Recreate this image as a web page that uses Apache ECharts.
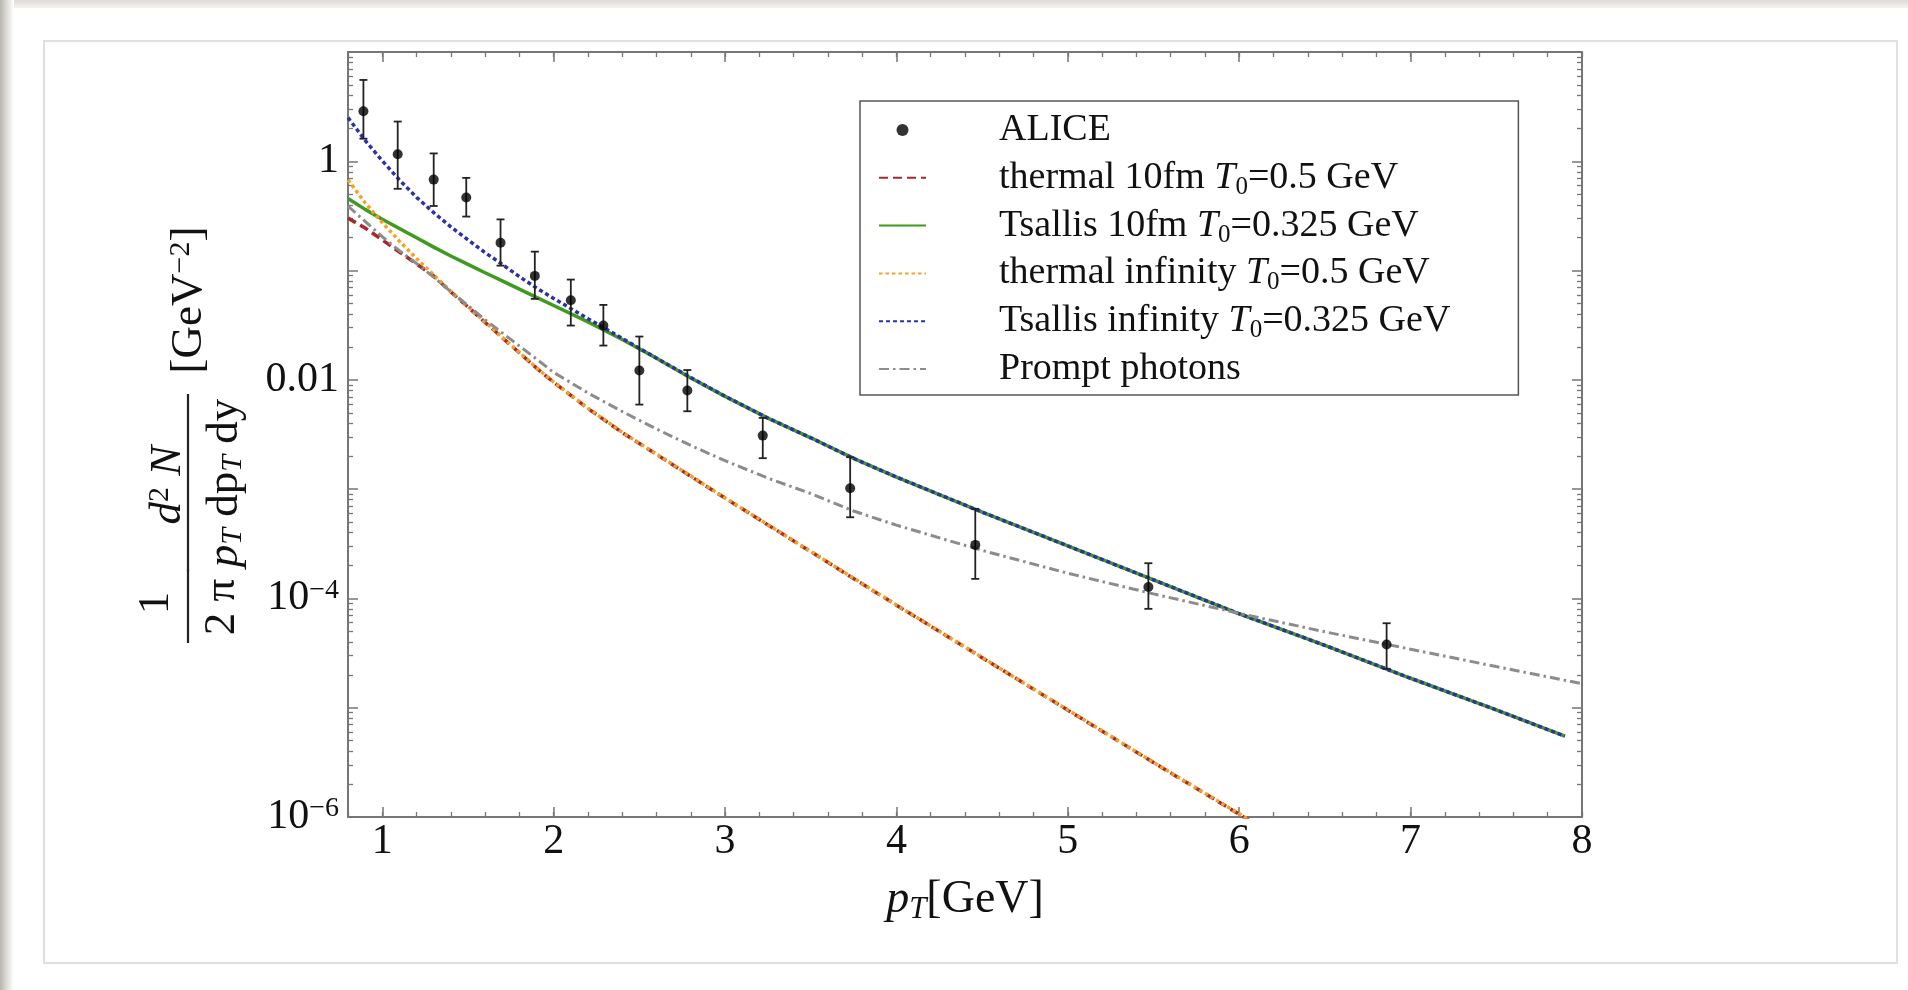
<!DOCTYPE html>
<html><head><meta charset="utf-8">
<script src="https://cdn.jsdelivr.net/npm/echarts@6/dist/echarts.min.js"></script>
<style>
html,body{margin:0;padding:0;width:1908px;height:990px;overflow:hidden;background:#fff;}
#topshade{position:absolute;left:0;top:0;width:1908px;height:8px;background:linear-gradient(#dedbd5,#f4f3f0);}
#leftshade{position:absolute;left:0;top:0;width:14px;height:990px;background:linear-gradient(to right,#b8b5af,#dcdad5 45%,#ffffff);}
#frame{position:absolute;left:43px;top:40px;width:1855px;height:924px;border:2px solid #e0e0e0;box-sizing:border-box;}
#chart{position:absolute;left:0;top:0;width:1908px;height:990px;}
</style></head>
<body>
<div id="topshade"></div><div id="leftshade"></div><div id="frame"></div>
<div id="chart"></div>
<script>
// ---- data ----
const PT = [0.8,0.9,1.0,1.1,1.2,1.3,1.4,1.5,1.6,1.7,1.8,1.9,2.0,2.2,2.4,2.6,2.8,3.0,3.25,3.5,3.75,4.0,4.5,5.0,5.5,6.0,6.5,7.0,7.5,7.9,8.0];
const THERMAL_10FM = [0.302,0.245,0.191,0.148,0.115,0.0891,0.0638,0.0465,0.0336,0.0243,0.0177,0.0128,0.0095,0.00547,0.00329,0.00208,0.00131,0.000828,0.000471,0.000268,0.000152,8.68e-5,2.87e-5,9.5e-6,3.15e-6,1.06e-6,3.4e-7,null,null,null,null];
const TSALLIS_10FM = [0.457,0.363,0.295,0.243,0.2,0.164,0.136,0.114,0.0955,0.0804,0.0676,0.0569,0.0479,0.0339,0.0234,0.0158,0.0104,0.00706,0.00447,0.00295,0.00191,0.00129,0.000617,0.000302,0.000148,7.24e-5,3.72e-5,1.86e-5,9.55e-6,5.5e-6,null];
const THERMAL_INF = [0.676,0.417,0.275,0.186,0.129,0.0912,0.0646,0.0468,0.0339,0.0245,0.0178,0.0129,0.00955,0.0055,0.00331,0.00209,0.00132,0.000832,0.000473,0.000269,0.000153,8.71e-5,2.88e-5,9.55e-6,3.16e-6,1.07e-6,3.4e-7,null,null,null,null];
const TSALLIS_INF = [2.51,1.55,1.01,0.676,0.468,0.339,0.251,0.191,0.146,0.114,0.0881,0.0692,0.0556,0.0363,0.024,0.0158,0.0105,0.00708,0.00447,0.00295,0.00191,0.00129,0.000617,0.000302,0.000148,7.24e-5,3.72e-5,1.86e-5,9.55e-6,5.5e-6,null];
const PROMPT = [0.389,0.282,0.204,0.152,0.116,0.0871,0.064,0.0479,0.0355,0.0269,0.0204,0.0155,0.0117,0.00759,0.00513,0.00355,0.00251,0.00182,0.00126,0.000912,0.000631,0.000468,0.000275,0.000170,0.000110,7.3e-5,4.95e-5,3.43e-5,2.38e-5,1.78e-5,1.66e-5];

const ALICE_PT = [0.89,1.09,1.3,1.49,1.69,1.89,2.1,2.29,2.5,2.78,3.22,3.73,4.46,5.47,6.86];
const ALICE_Y  = [2.87,1.16,0.68,0.466,0.18,0.0894,0.0535,0.0314,0.0122,0.00798,0.00309,0.00102,0.000309,0.000127,3.79e-5];
const ALICE_HI = [5.55,2.31,1.18,0.705,0.294,0.149,0.0827,0.0485,0.0249,0.0123,0.00449,0.00196,0.00066,0.00021,5.93e-5];
const ALICE_LO = [1.61,0.56,0.39,0.312,0.111,0.0551,0.0314,0.0206,0.00594,0.00516,0.00192,0.000553,0.000151,8.03e-5,2.27e-5];

const NAMES = ['ALICE','thermal 10fm T0=0.5 GeV','Tsallis 10fm T0=0.325 GeV','thermal infinity T0=0.5 GeV','Tsallis infinity T0=0.325 GeV','Prompt photons'];

const X_LABELS = [1,2,3,4,5,6,7,8];
const X_MINOR = [0.8,1.0,1.2,1.4,1.6,1.8,2.0,2.2,2.4,2.6,2.8,3.0,3.2,3.4,3.6,3.8,4.0,4.2,4.4,4.6,4.8,5.0,5.2,5.4,5.6,5.8,6.0,6.2,6.4,6.6,6.8,7.0,7.2,7.4,7.6,7.8,8.0];
const Y_LABELS = [1e-6,1e-4,0.01,1];
const Y_DECADES = [1e-6,1e-5,1e-4,1e-3,1e-2,1e-1,1,10];
const Y_MINOR_MULT = [2,3,4,5,6,7,8,9];

// ---- styling ----
const SERIF = '"Liberation Serif","Times New Roman",serif';
const FRAME = '#767676';
const TXT = '#111';
const Y_MINOR = [];
Y_DECADES.slice(0,-1).forEach(d => Y_MINOR_MULT.forEach(m => Y_MINOR.push(m*d)));

function pairs(ys){ return PT.map((x,i)=> ys[i]==null ? null : [x, ys[i]]).filter(Boolean); }

const chart = echarts.init(document.getElementById('chart'), null, {renderer:'canvas'});

const yBase = {type:'log', logBase:10, min:1e-6, max:10, gridIndex:0, splitLine:{show:false},
  axisLabel:{show:false}, axisLine:{show:false}, axisTick:{show:false}};
const xBase = {type:'value', min:0.8, max:8, gridIndex:0, splitLine:{show:false},
  axisLabel:{show:false}, axisLine:{show:false}, axisTick:{show:false}};
const tickMajor = (vals) => ({show:true, inside:true, length:10, customValues:vals, lineStyle:{color:FRAME, width:1.5}});
const tickMinor = (vals) => ({show:true, inside:true, length:5, customValues:vals, lineStyle:{color:FRAME, width:1.3}});
const frameLine = {show:true, lineStyle:{color:FRAME, width:2}};

function lineSeries(name, ys, color, type, width){
  return {name, type:'line', data:pairs(ys), xAxisIndex:0, yAxisIndex:0, symbol:'none', showSymbol:false,
    smooth:false, clip:true, silent:true,
    lineStyle:{color, width, type}, itemStyle:{color}};
}
const noDot = {opacity:0};

const option = {
  backgroundColor:'transparent',
  animation:false,
  grid:{left:348, right:326, top:52, bottom:173, containLabel:false},
  xAxis:[
    Object.assign({}, xBase, {position:'bottom', axisLine:frameLine, axisTick:tickMajor(X_LABELS),
      axisLabel:{show:true, customValues:X_LABELS, margin:4, fontFamily:SERIF, fontSize:42, color:TXT},
      name:'{i|p}{sub|T}[GeV]', nameLocation:'middle', nameGap:58,
      nameTextStyle:{fontFamily:SERIF, fontSize:46, color:TXT, lineHeight:50,
        rich:{i:{fontFamily:SERIF, fontStyle:'italic', fontSize:46, color:TXT, lineHeight:50},
              sub:{fontFamily:SERIF, fontStyle:'italic', fontSize:31, color:TXT, lineHeight:32, verticalAlign:'bottom'}}}}),
    Object.assign({}, xBase, {position:'bottom', axisTick:tickMinor(X_MINOR)}),
    Object.assign({}, xBase, {position:'top', axisLine:frameLine, axisTick:tickMajor(X_LABELS)}),
    Object.assign({}, xBase, {position:'top', axisTick:tickMinor(X_MINOR)})
  ],
  yAxis:[
    Object.assign({}, yBase, {position:'left', axisLine:frameLine, axisTick:tickMajor(Y_DECADES),
      axisLabel:{show:true, customValues:Y_LABELS, margin:9,
        formatter:(v)=>{ const e = Math.round(Math.log10(v)); if(e===0) return '{n|1}'; if(e===-2) return '{n|0.01}'; return '{n|10}{s|\u2212'+(-e)+'}'; },
        rich:{n:{fontFamily:SERIF, fontSize:42, color:TXT, lineHeight:44},
              s:{fontFamily:SERIF, fontSize:28, color:TXT, lineHeight:24, verticalAlign:'top'}}}}),
    Object.assign({}, yBase, {position:'left', axisTick:tickMinor(Y_MINOR)}),
    Object.assign({}, yBase, {position:'right', axisLine:frameLine, axisTick:tickMajor(Y_DECADES)}),
    Object.assign({}, yBase, {position:'right', axisTick:tickMinor(Y_MINOR)})
  ],
  legend:{
    orient:'vertical', left:860, top:101, padding:[7,68,4,18], itemGap:3.8, itemWidth:47, itemHeight:12,
    borderColor:'#555', borderWidth:1.5, backgroundColor:'#fff', selectedMode:false,
    data:[{name:NAMES[0], icon:'circle'},
          {name:NAMES[1], itemStyle:noDot}, {name:NAMES[2], itemStyle:noDot}, {name:NAMES[3], itemStyle:noDot},
          {name:NAMES[4], itemStyle:noDot}, {name:NAMES[5], itemStyle:noDot}],
    formatter:(n)=> n.replace('T0','{i|T}{sub|0}'),
    textStyle:{fontFamily:SERIF, fontSize:38, color:TXT, lineHeight:44, padding:[0,0,0,68],
      rich:{i:{fontFamily:SERIF, fontStyle:'italic', fontSize:38, color:TXT, lineHeight:44},
            sub:{fontFamily:SERIF, fontSize:25, color:TXT, lineHeight:26, verticalAlign:'bottom'}}}
  },
  graphic:[
    {type:'text', x:156, y:603, rotation:Math.PI/2, silent:true,
      style:{text:'1', fontFamily:SERIF, fontSize:45, fill:TXT, align:'center', verticalAlign:'middle'}},
    {type:'text', x:222, y:607, rotation:Math.PI/2, silent:true,
      style:{text:'2 \u03c0', fontFamily:SERIF, fontSize:45, fill:TXT, align:'center', verticalAlign:'middle'}},
    {type:'line', silent:true, shape:{x1:188, y1:569, x2:188, y2:643}, style:{stroke:'#222', lineWidth:2.2}},
    {type:'text', x:168, y:485, rotation:Math.PI/2, silent:true,
      style:{text:'{i|d}{sup|2}{i| N}', fontFamily:SERIF, fontSize:45, fill:TXT, align:'center', verticalAlign:'middle',
        rich:{i:{fontFamily:SERIF, fontStyle:'italic', fontSize:45, fill:TXT, lineHeight:46},
              sup:{fontFamily:SERIF, fontSize:30, fill:TXT, lineHeight:26, verticalAlign:'top'}}}},
    {type:'line', silent:true, shape:{x1:188, y1:394, x2:188, y2:572}, style:{stroke:'#222', lineWidth:2.2}},
    {type:'text', x:225, y:483, rotation:Math.PI/2, silent:true,
      style:{text:'{i|p}{sub|T} dp{sub|T} dy', fontFamily:SERIF, fontSize:45, fill:TXT, align:'center', verticalAlign:'middle',
        rich:{i:{fontFamily:SERIF, fontStyle:'italic', fontSize:45, fill:TXT, lineHeight:46},
              sub:{fontFamily:SERIF, fontStyle:'italic', fontSize:30, fill:TXT, lineHeight:28, verticalAlign:'bottom'}}}},
    {type:'text', x:189, y:300, rotation:Math.PI/2, silent:true,
      style:{text:'[GeV{sup|\u22122}]', fontFamily:SERIF, fontSize:45, fill:TXT, align:'center', verticalAlign:'middle', lineHeight:46,
        rich:{sup:{fontFamily:SERIF, fontSize:30, fill:TXT, lineHeight:26, verticalAlign:'top'}}}}
  ],
  series:[
    lineSeries(NAMES[1], THERMAL_10FM, '#a52a2a', [9,5], 3.5),
    lineSeries(NAMES[2], TSALLIS_10FM, '#3f9a1f', 'solid', 3.5),
    lineSeries(NAMES[3], THERMAL_INF, '#f2a22a', [3.5,3], 3.5),
    lineSeries(NAMES[4], TSALLIS_INF, '#2e31a6', [4,3], 3.5),
    lineSeries(NAMES[5], PROMPT, '#8c8c8c', [10,4,2.5,4], 3),
    {type:'custom', name:'ALICE errors', xAxisIndex:0, yAxisIndex:0, silent:true, z:4,
      data: ALICE_PT.map((x,i)=>[x, ALICE_LO[i], ALICE_HI[i]]),
      encode:{x:0, y:[1,2]},
      renderItem:(params, api)=>{
        const x = api.value(0);
        const lo = api.coord([x, api.value(1)]);
        const hi = api.coord([x, api.value(2)]);
        const cap = 4;
        const st = {stroke:'#222', lineWidth:1.8};
        return {type:'group', children:[
          {type:'line', shape:{x1:lo[0], y1:lo[1], x2:hi[0], y2:hi[1]}, style:st},
          {type:'line', shape:{x1:hi[0]-cap, y1:hi[1], x2:hi[0]+cap, y2:hi[1]}, style:st},
          {type:'line', shape:{x1:lo[0]-cap, y1:lo[1], x2:lo[0]+cap, y2:lo[1]}, style:st}
        ]};
      }},
    {name:NAMES[0], type:'scatter', xAxisIndex:0, yAxisIndex:0, z:5, silent:true,
      data: ALICE_PT.map((x,i)=>[x, ALICE_Y[i]]), symbol:'circle', symbolSize:10, itemStyle:{color:'#000'}}
  ]
};
chart.setOption(option);
</script>
</body></html>
